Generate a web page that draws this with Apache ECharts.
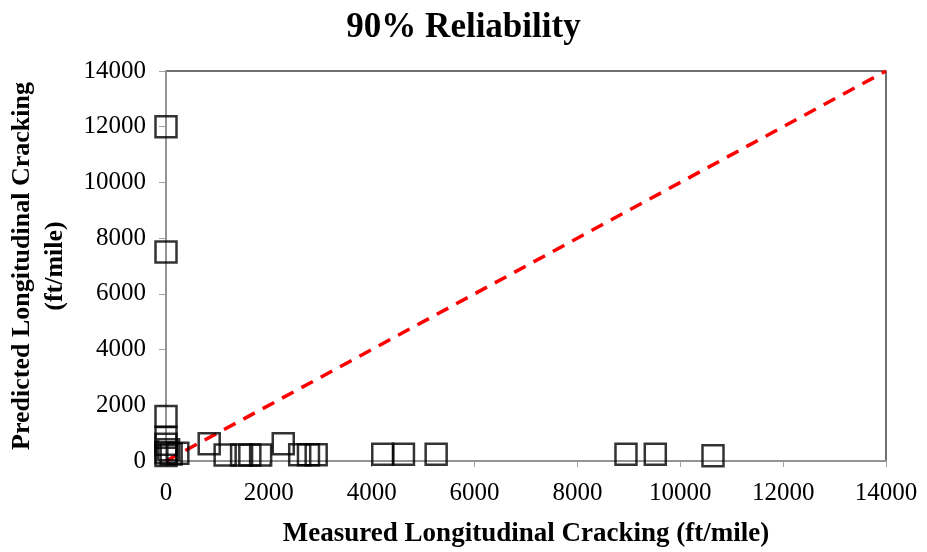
<!DOCTYPE html>
<html>
<head>
<meta charset="utf-8">
<script src="https://cdn.jsdelivr.net/npm/echarts@6/dist/echarts.min.js"></script>
<style>
  html, body { margin: 0; padding: 0; background: #fff; }
  #chart { width: 927px; height: 552px; }
</style>
</head>
<body>
<div id="chart"></div>
<script>
// Measured vs. predicted longitudinal cracking (ft/mile), 90% reliability
const measured = [0, 0, 0, 0, 0, 0, 0, 50, 100, 230, 840, 1150, 1470, 1630, 1840, 2280, 2600, 2770, 2920, 4215, 4617, 5253, 8944, 9514, 10636];
const predicted = [12000, 7500, 1600, 850, 600, 300, 200, 400, 250, 280, 620, 215, 215, 215, 215, 620, 220, 220, 220, 240, 240, 240, 240, 240, 190];

// Line of equality
const equalityX = [0, 14000];
const equalityY = [0, 14000];

const xTicks = [0, 2000, 4000, 6000, 8000, 10000, 12000, 14000];
const yTicks = [0, 2000, 4000, 6000, 8000, 10000, 12000, 14000];

const serif = '"Liberation Serif", "Times New Roman", serif';
const plain = v => String(v);

const chart = echarts.init(document.getElementById('chart'));
chart.setOption({
  backgroundColor: '#ffffff',
  animation: false,
  title: {
    text: '90% Reliability',
    left: 'center',
    top: 5,
    textStyle: { fontFamily: serif, fontWeight: 'bold', fontSize: 35, color: '#000' }
  },
  grid: {
    left: 166, right: 41, top: 71, bottom: 91,
    outerBoundsMode: 'none',
    containLabel: false,
    show: true, borderColor: '#404040', borderWidth: 1.5, backgroundColor: '#fff'
  },
  xAxis: {
    type: 'value',
    min: xTicks[0], max: xTicks[xTicks.length - 1], interval: 2000,
    name: 'Measured Longitudinal Cracking (ft/mile)',
    nameLocation: 'middle',
    nameGap: 60,
    nameTextStyle: { fontFamily: serif, fontWeight: 'bold', fontSize: 27, color: '#000' },
    axisLine: { show: true, onZero: false, lineStyle: { color: '#a0a0a0', width: 1.5 } },
    axisTick: { show: true, inside: false, length: 6, lineStyle: { color: '#a0a0a0' } },
    axisLabel: { fontFamily: serif, fontSize: 25, color: '#000', margin: 20, formatter: plain },
    splitLine: { show: false }
  },
  yAxis: {
    type: 'value',
    min: yTicks[0], max: yTicks[yTicks.length - 1], interval: 2000,
    name: 'Predicted Longitudinal Cracking\n(ft/mile)',
    nameLocation: 'middle',
    nameGap: 94,
    nameTextStyle: { fontFamily: serif, fontWeight: 'bold', fontSize: 26, color: '#000', lineHeight: 33 },
    axisLine: { show: true, onZero: false, lineStyle: { color: '#a0a0a0', width: 1.5 } },
    axisTick: { show: true, inside: false, length: 7, lineStyle: { color: '#a0a0a0' } },
    axisLabel: { fontFamily: serif, fontSize: 25, color: '#000', margin: 20, formatter: plain },
    splitLine: { show: false }
  },
  series: [
    {
      type: 'line',
      data: equalityX.map((x, i) => [x, equalityY[i]]),
      symbol: 'none',
      lineStyle: { color: '#ff0000', width: 3.5, type: [13, 9] },
      z: 3
    },
    {
      type: 'scatter',
      data: measured.map((x, i) => [x, predicted[i]]),
      symbol: 'rect',
      symbolSize: 21,
      clip: false,
      itemStyle: { color: 'rgba(0,0,0,0)', borderColor: '#000', borderWidth: 2.5 },
      z: 4
    }
  ]
});
</script>
</body>
</html>
